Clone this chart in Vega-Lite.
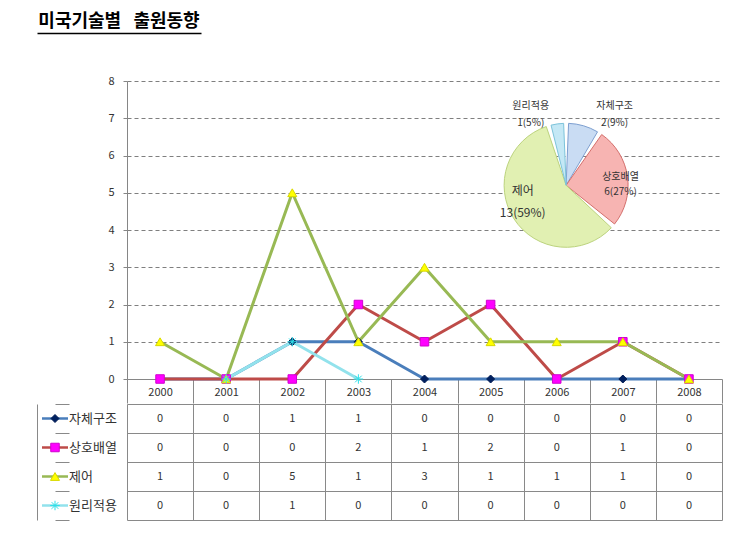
{
  "$schema": "https://vega.github.io/schema/vega-lite/v6.json",
  "background": "white",
  "padding": {"left": 37, "top": 11, "right": 5, "bottom": 5},
  "config": {
    "view": {"stroke": null},
    "font": "Noto Sans CJK KR",
    "axis": {"labelFont": "Noto Sans CJK KR", "titleFont": "Noto Sans CJK KR"},
    "text": {"font": "Noto Sans CJK KR"}
  },
  "datasets": {
    "series": [
      {"series": "자체구조", "year": 2000, "value": 0},
      {"series": "자체구조", "year": 2001, "value": 0},
      {"series": "자체구조", "year": 2002, "value": 1},
      {"series": "자체구조", "year": 2003, "value": 1},
      {"series": "자체구조", "year": 2004, "value": 0},
      {"series": "자체구조", "year": 2005, "value": 0},
      {"series": "자체구조", "year": 2006, "value": 0},
      {"series": "자체구조", "year": 2007, "value": 0},
      {"series": "자체구조", "year": 2008, "value": 0},
      {"series": "상호배열", "year": 2000, "value": 0},
      {"series": "상호배열", "year": 2001, "value": 0},
      {"series": "상호배열", "year": 2002, "value": 0},
      {"series": "상호배열", "year": 2003, "value": 2},
      {"series": "상호배열", "year": 2004, "value": 1},
      {"series": "상호배열", "year": 2005, "value": 2},
      {"series": "상호배열", "year": 2006, "value": 0},
      {"series": "상호배열", "year": 2007, "value": 1},
      {"series": "상호배열", "year": 2008, "value": 0},
      {"series": "제어", "year": 2000, "value": 1},
      {"series": "제어", "year": 2001, "value": 0},
      {"series": "제어", "year": 2002, "value": 5},
      {"series": "제어", "year": 2003, "value": 1},
      {"series": "제어", "year": 2004, "value": 3},
      {"series": "제어", "year": 2005, "value": 1},
      {"series": "제어", "year": 2006, "value": 1},
      {"series": "제어", "year": 2007, "value": 1},
      {"series": "제어", "year": 2008, "value": 0},
      {"series": "원리적용", "year": 2000, "value": 0},
      {"series": "원리적용", "year": 2001, "value": 0},
      {"series": "원리적용", "year": 2002, "value": 1},
      {"series": "원리적용", "year": 2003, "value": 0},
      {"series": "원리적용", "year": 2004, "value": 0},
      {"series": "원리적용", "year": 2005, "value": 0},
      {"series": "원리적용", "year": 2006, "value": 0},
      {"series": "원리적용", "year": 2007, "value": 0},
      {"series": "원리적용", "year": 2008, "value": 0}
    ],
    "pie": [
      {"name": "자체구조", "count": 2, "label": "자체구조\n2(9%)", "idx": 1},
      {"name": "상호배열", "count": 6, "label": "상호배열\n6(27%)", "idx": 2},
      {"name": "제어", "count": 13, "label": "제어\n13(59%)", "idx": 3},
      {"name": "원리적용", "count": 1, "label": "원리적용\n1(5%)", "idx": 4}
    ],
    "names": [
      {"series": "자체구조"},
      {"series": "상호배열"},
      {"series": "제어"},
      {"series": "원리적용"}
    ]
  },
  "bounds": "flush",
  "spacing": 48,
  "vconcat": [
    {
      "width": 164,
      "height": 22,
      "data": {"values": [{"title": "미국기술별\u00a0\u00a0\u00a0출원동향"}]},
      "mark": {"type": "text", "fontSize": 18, "fontWeight": "bold", "color": "#000000", "align": "center", "baseline": "middle"},
      "encoding": {
        "x": {"datum": 0.5, "type": "quantitative", "scale": {"domain": [0, 1]},
          "axis": {"domain": true, "domainColor": "#000000", "domainWidth": 1.5, "ticks": false, "labels": false, "grid": false, "title": null}},
        "text": {"field": "title"}
      }
    },
    {
      "spacing": 0,
      "vconcat": [
        {
          "spacing": 0,
          "bounds": "flush",
          "hconcat": [
            {"width": 90, "height": 298, "data": {"values": [{}]}, "mark": {"type": "point", "opacity": 0}},
            {
              "width": 595,
              "height": 298,
              "layer": [
                {
                  "data": {"name": "series"},
                  "transform": [{"filter": "datum.series != '원리적용' || (datum.year >= 2001 && datum.year <= 2003)"}],
                  "encoding": {
                    "x": {"field": "year", "type": "ordinal",
                      "scale": {"type": "band", "paddingInner": 0, "paddingOuter": 0},
                      "axis": {"title": null, "labelAngle": 0, "grid": false, "tickBand": "extent", "tickSize": 24, "tickColor": "#898989", "domainColor": "#868686", "labelPadding": -17, "labelFontSize": 11, "labelColor": "#333333"}},
                    "y": {"field": "value", "type": "quantitative",
                      "scale": {"domain": [0, 8]},
                      "axis": {"title": null, "values": [0, 1, 2, 3, 4, 5, 6, 7, 8], "grid": true, "gridDash": [4, 3], "gridColor": "#7f7f7f", "domainColor": "#868686", "tickColor": "#868686", "tickSize": 4, "labelPadding": 9, "labelFontSize": 11, "labelColor": "#333333"}}
                  },
                  "layer": [
                    {
                      "mark": {"type": "line", "strokeJoin": "round"},
                      "encoding": {
                        "color": {"field": "series", "type": "nominal",
                          "scale": {"domain": ["자체구조", "상호배열", "제어", "원리적용"], "range": ["#4a7ebb", "#be4b48", "#98b954", "#92e2ec"]},
                          "legend": null},
                        "strokeWidth": {"field": "series", "type": "nominal",
                          "scale": {"domain": ["자체구조", "상호배열", "제어", "원리적용"], "range": [3, 3, 3, 2]},
                          "legend": null}
                      }
                    },
                    {
                      "mark": {"type": "point", "filled": true, "opacity": 1, "strokeWidth": 1},
                      "encoding": {
                        "shape": {"field": "series", "type": "nominal",
                          "scale": {"domain": ["자체구조", "상호배열", "제어", "원리적용"], "range": ["diamond", "square", "triangle-up", "M-1,0L1,0M0,-1L0,1M-0.7,-0.7L0.7,0.7M-0.7,0.7L0.7,-0.7"]},
                          "legend": null},
                        "fill": {"field": "series", "type": "nominal",
                          "scale": {"domain": ["자체구조", "상호배열", "제어", "원리적용"], "range": ["#002060", "#ff00ff", "#ffff00", "#00ffff"]},
                          "legend": null},
                        "stroke": {"field": "series", "type": "nominal",
                          "scale": {"domain": ["자체구조", "상호배열", "제어", "원리적용"], "range": ["#001a50", "#d000d0", "#d8d800", "#30e0e8"]},
                          "legend": null},
                        "size": {"field": "series", "type": "nominal",
                          "scale": {"domain": ["자체구조", "상호배열", "제어", "원리적용"], "range": [64, 90, 100, 64]},
                          "legend": null}
                      }
                    }
                  ]
                },
                {
                  "data": {"name": "pie"},
                  "transform": [
                    {"stack": "count", "groupby": [], "sort": [{"field": "idx", "order": "ascending"}], "as": ["t0", "t1"]},
                    {"calculate": "(datum.t0 + datum.t1) / 2", "as": "tm"}
                  ],
                  "encoding": {
                    "x": {"datum": 0.738, "type": "quantitative", "scale": {"domain": [0, 1]}, "axis": null},
                    "y": {"datum": 5.2, "type": "quantitative", "scale": {"domain": [0, 8]}, "axis": null},
                    "theta": {"field": "t0", "type": "quantitative", "scale": {"domain": [0, 22], "range": [0, 6.283185]}}
                  },
                  "layer": [
                    {
                      "mark": {"type": "arc", "outerRadius": 62, "padAngle": 0.08, "strokeWidth": 1},
                      "encoding": {
                        "theta2": {"field": "t1"},
                        "fill": {"field": "name", "type": "nominal",
                          "scale": {"domain": ["자체구조", "상호배열", "제어", "원리적용"], "range": ["#c9dcf3", "#f7b4b2", "#e1f0b2", "#c4e8f5"]},
                          "legend": null},
                        "stroke": {"field": "name", "type": "nominal",
                          "scale": {"domain": ["자체구조", "상호배열", "제어", "원리적용"], "range": ["#7d9fd0", "#d46f6c", "#bcd37e", "#7cc3da"]},
                          "legend": null}
                      }
                    },
                    {
                      "transform": [{"filter": "datum.name == '원리적용'"}],
                      "mark": {"type": "text", "radius": 80, "dx": -24, "dy": 0, "fontSize": 10, "lineHeight": 17, "lineBreak": "\n", "color": "#333333", "align": "center", "baseline": "middle"},
                      "encoding": {"theta": {"field": "tm", "type": "quantitative"}, "text": {"field": "label"}}
                    },
                    {
                      "transform": [{"filter": "datum.name == '자체구조'"}],
                      "mark": {"type": "text", "radius": 80, "dx": 26, "dy": -3, "fontSize": 10, "lineHeight": 17, "lineBreak": "\n", "color": "#333333", "align": "center", "baseline": "middle"},
                      "encoding": {"theta": {"field": "tm", "type": "quantitative"}, "text": {"field": "label"}}
                    },
                    {
                      "transform": [{"filter": "datum.name == '상호배열'"}],
                      "mark": {"type": "text", "radius": 55, "dx": 0, "dy": 0, "fontSize": 10, "lineHeight": 15, "lineBreak": "\n", "color": "#333333", "align": "center", "baseline": "middle"},
                      "encoding": {"theta": {"field": "tm", "type": "quantitative"}, "text": {"field": "label"}}
                    },
                    {
                      "transform": [{"filter": "datum.name == '제어'"}],
                      "mark": {"type": "text", "radius": 48, "dx": -3, "dy": -20, "fontSize": 12, "lineHeight": 22, "lineBreak": "\n", "color": "#333333", "align": "center", "baseline": "middle"},
                      "encoding": {"theta": {"field": "tm", "type": "quantitative"}, "text": {"field": "label"}}
                    }
                  ]
                }
              ],
              "resolve": {"scale": {"x": "independent", "y": "independent", "fill": "independent", "stroke": "independent"}}
            }
          ]
        },
        {
          "spacing": 0,
          "bounds": "flush",
          "hconcat": [
            {
              "width": 90,
              "height": 116,
              "data": {"name": "names"},
              "encoding": {
                "y": {"field": "series", "type": "nominal",
                  "scale": {"domain": ["자체구조", "상호배열", "제어", "원리적용"], "paddingInner": 0, "paddingOuter": 0},
                  "axis": {"orient": "left", "labels": false, "ticks": false, "domain": true, "domainColor": "#898989", "grid": true, "gridColor": "#898989", "gridDash": [], "tickBand": "extent", "title": null}}
              },
              "layer": [
                {
                  "mark": {"type": "point", "filled": false, "size": 676, "strokeWidth": 2.5, "opacity": 1, "shape": "M-1,0L1,0"},
                  "encoding": {
                    "x": {"datum": "sym", "type": "nominal", "scale": {"type": "point", "domain": ["sym", "name"], "range": [18, 32], "padding": 0}, "axis": null},
                    "color": {"field": "series", "type": "nominal",
                      "scale": {"domain": ["자체구조", "상호배열", "제어", "원리적용"], "range": ["#4a7ebb", "#be4b48", "#98b954", "#92e2ec"]},
                      "legend": null}
                  }
                },
                {
                  "mark": {"type": "point", "filled": true, "opacity": 1, "strokeWidth": 1},
                  "encoding": {
                    "x": {"datum": "sym", "type": "nominal"},
                    "shape": {"field": "series", "type": "nominal",
                      "scale": {"domain": ["자체구조", "상호배열", "제어", "원리적용"], "range": ["diamond", "square", "triangle-up", "M-1,0L1,0M0,-1L0,1M-0.7,-0.7L0.7,0.7M-0.7,0.7L0.7,-0.7"]},
                      "legend": null},
                    "fill": {"field": "series", "type": "nominal",
                      "scale": {"domain": ["자체구조", "상호배열", "제어", "원리적용"], "range": ["#002060", "#ff00ff", "#ffff00", "#00ffff"]},
                      "legend": null},
                    "stroke": {"field": "series", "type": "nominal",
                      "scale": {"domain": ["자체구조", "상호배열", "제어", "원리적용"], "range": ["#001a50", "#d000d0", "#d8d800", "#30e0e8"]},
                      "legend": null},
                    "size": {"field": "series", "type": "nominal",
                      "scale": {"domain": ["자체구조", "상호배열", "제어", "원리적용"], "range": [64, 90, 100, 64]},
                      "legend": null}
                  }
                },
                {
                  "mark": {"type": "text", "align": "left", "baseline": "middle", "fontSize": 13, "color": "#333333"},
                  "encoding": {
                    "x": {"datum": "name", "type": "nominal"},
                    "text": {"field": "series"}
                  }
                }
              ]
            },
            {
              "width": 595,
              "height": 116,
              "data": {"name": "series"},
              "mark": {"type": "text", "fontSize": 11, "color": "#333333", "align": "center", "baseline": "middle"},
              "encoding": {
                "x": {"field": "year", "type": "ordinal",
                  "scale": {"type": "band", "paddingInner": 0, "paddingOuter": 0},
                  "axis": {"orient": "top", "labels": false, "ticks": false, "domain": false, "grid": true, "gridColor": "#898989", "gridDash": [], "tickBand": "extent", "title": null}},
                "y": {"field": "series", "type": "nominal",
                  "scale": {"domain": ["자체구조", "상호배열", "제어", "원리적용"], "paddingInner": 0, "paddingOuter": 0},
                  "axis": {"orient": "left", "labels": false, "ticks": false, "domain": false, "grid": true, "gridColor": "#898989", "gridDash": [], "tickBand": "extent", "title": null}},
                "text": {"field": "value"}
              }
            }
          ]
        }
      ]
    }
  ]
}
